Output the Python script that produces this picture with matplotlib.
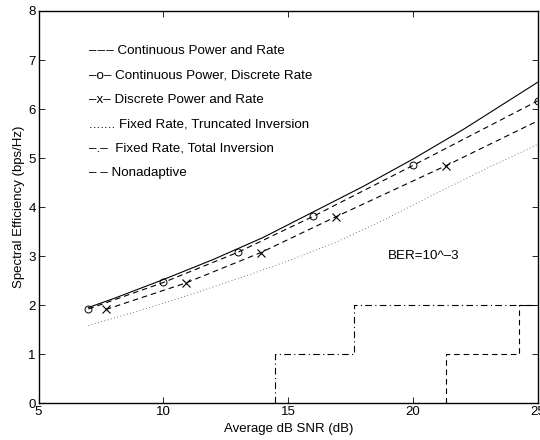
import matplotlib
matplotlib.use('Agg')
import matplotlib.pyplot as plt

plt.rcParams['font.family'] = ['Liberation Sans', 'DejaVu Sans']

# continuous power and rate (solid)
cpr_snr = [7, 8, 10, 12, 14, 16, 18, 20, 22, 25]
cpr_se = [1.95, 2.13, 2.52, 2.93, 3.38, 3.9, 4.42, 4.98, 5.58, 6.55]

# continuous power, discrete rate (dashed, o)
cpdr_snr = [7, 10, 13, 16, 20, 25]
cpdr_se = [1.92, 2.46, 3.08, 3.81, 4.85, 6.17]

# discrete power and rate (dashed, x)
dpr_snr = [7.7, 10.9, 13.9, 16.9, 21.3]
dpr_se = [1.91, 2.45, 3.07, 3.80, 4.84]
dpr_end = (25, 5.76)

# fixed rate, truncated inversion (dotted)
tci_snr = [7, 9, 11, 13, 15, 17, 19, 21, 23, 25]
tci_se = [1.58, 1.88, 2.2, 2.54, 2.9, 3.3, 3.78, 4.3, 4.8, 5.28]

# fixed rate, total inversion (dash-dot staircase)
ti_snr = [14.45, 17.62, 25]
ti_se = [0, 1, 2]

# nonadaptive (dashed staircase)
na_snr = [21.33, 24.23, 25]
na_se = [0, 1, 2]

legend_lines = [
    '\u2013\u200a\u2013\u200a\u2013 Continuous Power and Rate',
    '\u2013o\u2013 Continuous Power, Discrete Rate',
    '\u2013x\u2013 Discrete Power and Rate',
    '....... Fixed Rate, Truncated Inversion',
    '\u2013.\u2013  Fixed Rate, Total Inversion',
    '\u2013 \u2013 Nonadaptive',
]

fig = plt.figure(figsize=(5.4, 4.4), dpi=100)
ax = fig.add_axes([0.0713, 0.084, 0.9250, 0.891])

dash = (0, (5, 3.5))
ax.plot(cpr_snr, cpr_se, 'k-', lw=0.8)
ax.plot(cpdr_snr, cpdr_se, color='k', ls=dash, lw=0.8, marker='o', ms=5, mfc='none', mew=0.7)
ax.plot(dpr_snr + [dpr_end[0]], dpr_se + [dpr_end[1]], color='k', ls=dash, lw=0.8)
ax.plot(dpr_snr, dpr_se, 'kx', ms=5.5, mew=0.8)
ax.plot(tci_snr, tci_se, color='0.3', ls=(0, (1, 3)), lw=0.6)
ax.plot(ti_snr, ti_se, color='k', ls=(0, (6, 3, 1, 3)), lw=0.8, drawstyle='steps-pre')
ax.plot(na_snr, na_se, color='k', ls=dash, lw=0.8, drawstyle='steps-pre')

for i, s in enumerate(legend_lines):
    ax.text(7.03, 7.19 - 0.5 * i, s, fontsize=9.6, va='center', ha='left')
ax.text(19.0, 3.0, 'BER=10^\u20133', fontsize=9.6, va='center', ha='left')

ax.set_xlim(5, 25)
ax.set_ylim(0, 8)
ax.set_xticks([5, 10, 15, 20, 25])
ax.set_yticks(range(9))
ax.tick_params(direction='in', top=True, right=True, labelsize=9.5, length=4, width=0.6, pad=2)
for sp in ax.spines.values():
    sp.set_linewidth(1.0)
ax.set_xlabel('Average dB SNR (dB)', fontsize=9.5, labelpad=4)
ax.set_ylabel('Spectral Efficiency (bps/Hz)', fontsize=9.5, labelpad=2)

fig.savefig('out.png', dpi=100)
